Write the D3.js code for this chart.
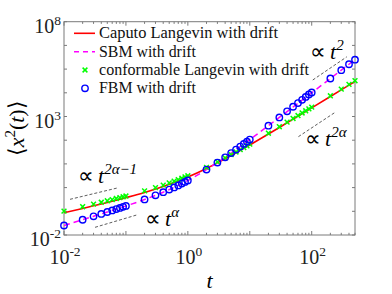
<!DOCTYPE html>
<html><head><meta charset="utf-8">
<script src="https://cdn.jsdelivr.net/npm/d3@7"></script>
<style>
body{margin:0;background:#fff;}
svg{display:block;}
</style>
</head><body>
<svg id="c" width="392" height="294"></svg>
<script>
// ---- data ----
const tValues = [0.01,0.02,0.03,0.04,0.05,0.06,0.07,0.08,0.09,0.1,
  0.2,0.3,0.4,0.5,0.6,0.7,0.8,0.9,1,
  2,3,4,5,6,7,8,9,10,
  20,30,40,50,60,70,80,90,100,
  200,300,400,500];
const caputoValues = [0.0861,0.1319,0.170,0.204,0.236,0.266,0.294,0.322,0.349,0.376,
  0.624,0.867,1.114,1.369,1.634,1.909,2.196,2.492,2.80,
  6.44,11.02,16.43,22.59,29.45,36.96,45.10,53.82,63.10,
  183.1,345.2,542.8,772.2,1030.6,1316,1627,1962,2320,
  7000,13370,21170,30240];
const sbmValues = [0.0252,0.0441,0.0614,0.0777,0.0935,0.109,0.124,0.139,0.154,0.168,
  0.316,0.472,0.640,0.824,1.02,1.24,1.48,1.73,2.00,
  5.74,11.4,19.0,28.6,40.2,53.7,69.3,86.8,106,
  411,915,1620,2520,3630,4930,6430,8140,10040,
  40070,90100,160100,250100];
const conformableValues = [0.102,0.156,0.201,0.241,0.278,0.313,0.347,0.379,0.410,0.441,
  0.727,1.00,1.28,1.57,1.86,2.17,2.48,2.81,3.15,
  7.12,12.1,17.9,24.6,31.9,40.0,48.8,58.1,68.1,
  197,370,582,827,1100,1410,1740,2100,2480,
  7490,14300,22600,32300];
const fbmValues = [0.0252,0.0441,0.0614,0.0777,0.0935,0.109,0.124,0.139,0.154,0.168,
  0.316,0.472,0.640,0.824,1.02,1.24,1.48,1.73,2.00,
  5.74,11.4,19.0,28.6,40.2,53.7,69.3,86.8,106,
  411,915,1650,2580,3700,5050,6700,8500,10300,
  40100,90100,160000,250000];
const seriesNames = ["Caputo Langevin with drift","SBM with drift","conformable Langevin with drift","FBM with drift"];
const xTickValues = [0.01, 1, 100];
const xTickLabels = ["-2","0","2"];
const yTickValues = [1e-2, 1e3, 1e7];
const yTickLabels = ["-2","3","8"];
// guide lines (t, <x^2>) endpoints
const guideShortCaputo = [[0.0125,0.32],[0.071,0.95]];
const guideShortFbm = [[0.0317,0.0211],[0.149,0.0698]];
const guideLongFbm = [[104,34700],[369,330000]];
const guideLongCaputo = [[61,141],[239,1500]];

// ---- layout ----
const L=64, R=355, T=21.7, B=235;
const SERIF="Liberation Serif";
const svg = d3.select("#c");
const x = d3.scaleLog().domain([0.01,500]).range([L,R]);
const y = d3.scaleLog().domain([1e-2,1e7]).range([B,T]);

svg.append("clipPath").attr("id","clip").append("rect")
  .attr("x",L).attr("y",T).attr("width",R-L).attr("height",B-T);

const axisColor="#7a7a7a";
const g = svg.append("g");
const xMajor = d3.range(-2,3).map(k=>Math.pow(10,k));
const xMinor = [];
for(let k=-2;k<=2;k++){for(let m=2;m<=9;m++){const v=m*Math.pow(10,k); if(v<=500) xMinor.push(v);}}
const yMajor = d3.range(-2,8).map(k=>Math.pow(10,k));
xMajor.forEach(v=>{
  g.append("line").attr("x1",x(v)).attr("x2",x(v)).attr("y1",B).attr("y2",B-4).attr("stroke",axisColor);
  g.append("line").attr("x1",x(v)).attr("x2",x(v)).attr("y1",T).attr("y2",T+4).attr("stroke",axisColor);
});
xMinor.forEach(v=>{
  g.append("line").attr("x1",x(v)).attr("x2",x(v)).attr("y1",B).attr("y2",B-2.2).attr("stroke",axisColor);
  g.append("line").attr("x1",x(v)).attr("x2",x(v)).attr("y1",T).attr("y2",T+2.2).attr("stroke",axisColor);
});
yMajor.forEach(v=>{
  g.append("line").attr("x1",L).attr("x2",L+3).attr("y1",y(v)).attr("y2",y(v)).attr("stroke",axisColor);
  g.append("line").attr("x1",R).attr("x2",R-3).attr("y1",y(v)).attr("y2",y(v)).attr("stroke",axisColor);
});
svg.append("rect").attr("x",L).attr("y",T).attr("width",R-L).attr("height",B-T)
  .attr("fill","none").attr("stroke",axisColor).attr("stroke-width",1);

// tick labels
xTickValues.forEach((v,i)=>{
  const t = svg.append("text").attr("x",x(v)+1).attr("y",264).attr("text-anchor","middle")
    .attr("font-family",SERIF).attr("font-size",20).attr("fill","#222");
  t.append("tspan").text("10");
  t.append("tspan").attr("dy",-8).attr("font-size",13.5).text(xTickLabels[i]);
});
yTickValues.forEach((v,i)=>{
  const t = svg.append("text").attr("x",61).attr("y",y(v)+11).attr("text-anchor","end")
    .attr("font-family",SERIF).attr("font-size",20).attr("fill","#222");
  t.append("tspan").text("10");
  t.append("tspan").attr("dy",-8).attr("font-size",13.5).text(yTickLabels[i]);
});

// axis labels
svg.append("text").attr("x",(L+R)/2).attr("y",288).attr("text-anchor","middle")
  .attr("font-family",SERIF).attr("font-size",22).attr("font-style","italic").text("t");
const yl = svg.append("text").attr("transform","translate(24,"+((T+B)/2)+") rotate(-90)")
  .attr("text-anchor","middle").attr("font-family",SERIF).attr("font-size",22);
yl.append("tspan").text("\u27E8");
yl.append("tspan").attr("font-style","italic").text("x");
yl.append("tspan").attr("dy",-9).attr("font-size",15).text("2");
yl.append("tspan").attr("dy",9).text("(");
yl.append("tspan").attr("font-style","italic").text("t");
yl.append("tspan").text(")");
yl.append("tspan").text("\u27E9");

// guides
const guideLine = d3.line().x(d=>x(d[0])).y(d=>y(d[1]));
[guideShortCaputo,guideShortFbm,guideLongFbm,guideLongCaputo].forEach(gd=>{
  svg.append("path").attr("d",guideLine(gd)).attr("fill","none")
    .attr("stroke","#333").attr("stroke-width",0.8).attr("stroke-dasharray","3,2");
});

// annotations
function annot(px,py,sup){
  const t = svg.append("text").attr("x",px).attr("y",py).attr("font-family",SERIF).attr("font-size",22);
  t.append("tspan").text("\u221D");
  t.append("tspan").attr("dx",4).attr("font-style","italic").text("t");
  t.append("tspan").attr("dy",-9).attr("font-size",15).attr("font-style","italic").text(sup);
}
annot(78,183,"2α−1");
annot(145,226,"α");
annot(310,59,"2");
annot(305,146,"2α");

// data
const data = tValues.map((t,i)=>({t, c:caputoValues[i], s:sbmValues[i], f:conformableValues[i], b:fbmValues[i]}));
const plot = svg.append("g").attr("clip-path","url(#clip)");
plot.append("path").datum(data).attr("d",d3.line().x(d=>x(d.t)).y(d=>y(d.c)).curve(d3.curveMonotoneX))
  .attr("fill","none").attr("stroke","#ff0000").attr("stroke-width",1.6);
plot.append("path").datum(data).attr("d",d3.line().x(d=>x(d.t)).y(d=>y(d.s)).curve(d3.curveMonotoneX))
  .attr("fill","none").attr("stroke","#ff00ff").attr("stroke-width",1.5).attr("stroke-dasharray","6,4");
const cs=2.4;
const crossPath = (cx,cy)=>`M${cx-cs},${cy-cs}L${cx+cs},${cy+cs}M${cx-cs},${cy+cs}L${cx+cs},${cy-cs}`;
svg.append("g").selectAll("path").data(data).join("path")
  .attr("d",d=>crossPath(x(d.t),y(d.f))).attr("stroke","#00ff00").attr("stroke-width",1.5).attr("fill","none");
svg.append("g").selectAll("circle").data(data).join("circle")
  .attr("cx",d=>x(d.t)).attr("cy",d=>y(d.b)).attr("r",3.2)
  .attr("fill","none").attr("stroke","#0000ff").attr("stroke-width",1.4);

// legend
const ly=[33.3,51.7,70,88.3];
const legendWidths=[179,97,210,97];
const lg = svg.append("g");
lg.append("line").attr("x1",74).attr("x2",95).attr("y1",ly[0]).attr("y2",ly[0]).attr("stroke","#ff0000").attr("stroke-width",1.6);
lg.append("line").attr("x1",74).attr("x2",95).attr("y1",ly[1]).attr("y2",ly[1]).attr("stroke","#ff00ff").attr("stroke-width",1.5).attr("stroke-dasharray","5,4");
lg.append("path").attr("d",crossPath(85,ly[2])).attr("stroke","#00ff00").attr("stroke-width",1.5);
lg.append("circle").attr("cx",85).attr("cy",ly[3]).attr("r",3.2).attr("fill","none").attr("stroke","#0000ff").attr("stroke-width",1.4);
seriesNames.forEach((n,i)=>{
  lg.append("text").attr("x",99).attr("y",ly[i]+5).attr("font-family",SERIF).attr("font-size",16.5)
    .attr("textLength",legendWidths[i]).attr("lengthAdjust","spacingAndGlyphs").attr("fill","#111").text(n);
});
</script>
</body></html>
